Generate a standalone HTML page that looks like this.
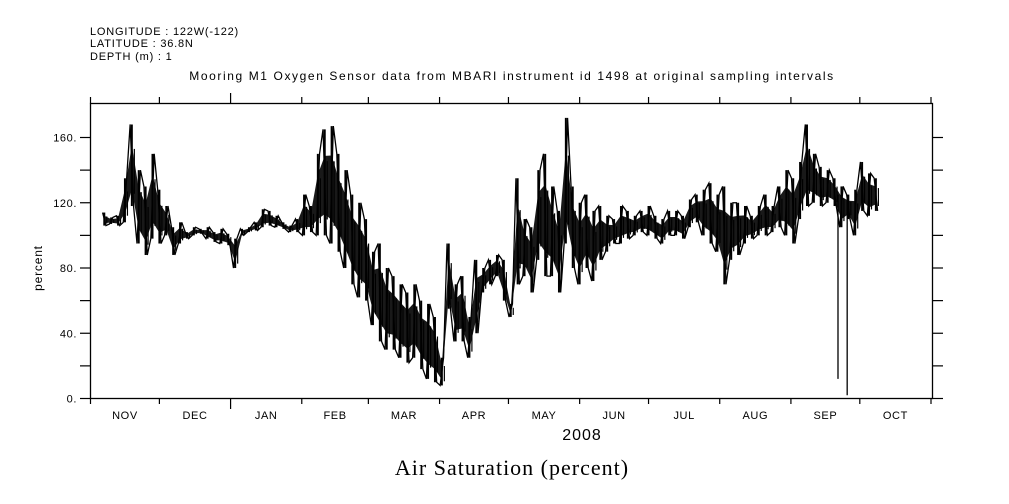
<!DOCTYPE html>
<html><head><meta charset="utf-8"><style>
body{margin:0;background:#fff;}
svg{display:block;font-family:"Liberation Sans",sans-serif;}
</style></head><body>
<svg id="chart" width="1009" height="504" viewBox="0 0 1009 504">
<g font-size="11" fill="#000" letter-spacing="0.8">
<text x="90" y="35">LONGITUDE : 122W(-122)</text>
<text x="90" y="47">LATITUDE : 36.8N</text>
<text x="90" y="60">DEPTH (m) : 1</text>
</g>
<text x="512" y="80" font-size="12" letter-spacing="1.6" text-anchor="middle">Mooring M1 Oxygen Sensor data from MBARI instrument id 1498 at original sampling intervals</text>
<rect x="90.5" y="103.5" width="842" height="295" fill="none" stroke="#000" stroke-width="1.3"/>
<g id="axes"></g>
<g id="series"></g>
<text transform="translate(42,268) rotate(-90)" font-size="12" letter-spacing="0.8" text-anchor="middle">percent</text>
<text x="582" y="440" font-size="16" letter-spacing="1" text-anchor="middle">2008</text>
<text x="512" y="475" font-size="22" letter-spacing="1" text-anchor="middle" font-family="'Liberation Serif',serif">Air Saturation (percent)</text>
</svg>
<script>
const monthLabels=["NOV","DEC","JAN","FEB","MAR","APR","MAY","JUN","JUL","AUG","SEP","OCT"];
const monthStartDays=[0,30,61,92,121,152,182,213,243,274,305,335,366];
const yTicks=[0,20,40,60,80,100,120,140,160];
const yTickLabels=["0.","","40.","","80.","","120.","","160."];
const startDay=6, stepDays=3;
const lowValues=[106,107,106,108,118,95,88,98,95,100,88,95,98,100,101,98,96,95,94,80,100,102,103,105,106,105,104,102,102,100,102,100,100,95,90,80,70,62,60,45,35,30,30,25,22,25,18,12,10,8,55,35,35,25,40,65,70,75,60,50,70,75,65,85,75,75,65,95,80,70,80,72,85,90,95,95,98,100,102,100,98,95,100,100,98,105,108,100,95,90,70,85,88,95,98,100,100,102,105,100,95,110,118,120,118,120,118,105,110,100,115,112,115];
const highValues=[114,111,112,135,168,140,130,150,128,118,105,108,102,105,104,105,102,104,101,98,104,105,108,116,115,112,108,106,110,125,118,150,165,167,150,140,125,120,110,90,95,80,75,70,65,70,60,58,50,25,95,70,75,50,85,80,85,88,85,58,135,110,105,140,150,130,115,172,130,120,125,115,118,112,110,118,115,112,115,118,112,110,115,115,112,122,125,128,132,125,130,120,120,118,112,118,125,118,130,140,135,145,168,150,142,140,135,130,125,128,145,138,135];
const spikeDays=[325.5,329.5];
const spikeValues=[12,2];
const X0=90.5,X1=931,Y0=398.5,YTOP=137.5;
const xs=d=>X0+(X1-X0)*d/366;
const ys=v=>Y0-(Y0-YTOP)*v/160;
const NS="http://www.w3.org/2000/svg";
function mk(tag,attrs,parent){const e=document.createElementNS(NS,tag);for(const k in attrs)e.setAttribute(k,attrs[k]);parent.appendChild(e);return e;}
const ax=document.getElementById('axes');
yTicks.forEach((t,i)=>{
 const y=ys(t);
 const l=mk('line',{x1:80,x2:90.5,y1:y,y2:y,stroke:'#000','stroke-width':1.2},ax);
 
 
 const r=mk('line',{x1:932.5,x2:943,y1:y,y2:y,stroke:'#000','stroke-width':1.2},ax);
 
 
 if(yTickLabels[i]){const tx=mk('text',{x:77,y:y+4,'font-size':11,'letter-spacing':0.6,'text-anchor':'end'},ax);tx.textContent=yTickLabels[i];
 
 }
});
monthStartDays.forEach((d,i)=>{
 const x=xs(d);const big=(i===2);
 const b=mk('line',{x1:x,x2:x,y1:398.5,y2:big?409:404,stroke:'#000','stroke-width':1.2},ax);
 
 
 const t=mk('line',{x1:x,x2:x,y1:103.5,y2:big?93:97,stroke:'#000','stroke-width':1.2},ax);
 
 
 if(i<monthLabels.length){const tx=mk('text',{x:(xs(d)+xs(monthStartDays[i+1]))/2,y:419,'font-size':11,'letter-spacing':0.6,'text-anchor':'middle'},ax);tx.textContent=monthLabels[i];
 
 }
});
const sg=document.getElementById('series');
const pts=[];
const bandTop=[],bandBot=[];
lowValues.forEach((lo,i)=>{
 const d=startDay+i*stepDays;const x=xs(d);const hi=highValues[i];
 bandTop.push([x,ys(lo+(hi-lo)*0.75)]);bandBot.push([x,ys(lo+(hi-lo)*0.2)]);
 if(i%2===0){pts.push([x-1.7,ys(hi)],[x+1.7,ys(lo)]);}else{pts.push([x-1.7,ys(lo)],[x+1.7,ys(hi)]);}
 const v=mk('line',{x1:x,x2:x,y1:ys(lo),y2:ys(hi),stroke:'#000','stroke-width':2},sg);
 
 
 const m=mk('line',{x1:x+2.5,x2:x+2.5,y1:ys(lo+(hi-lo)*0.15),y2:ys(hi-(hi-lo)*0.3),stroke:'#000','stroke-width':1.2},sg);
 
 
});
const band=mk('polygon',{points:bandTop.concat(bandBot.slice().reverse()).map(p=>p.join(',')).join(' '),fill:'#000','fill-opacity':0.9,stroke:'none'},sg);


const pl=mk('polyline',{points:pts.map(p=>p.join(',')).join(' '),fill:'none',stroke:'#000','stroke-width':1.3},sg);


spikeDays.forEach((d,i)=>{
 const s=mk('line',{x1:xs(d),x2:xs(d),y1:ys(125),y2:ys(spikeValues[i]),stroke:'#000','stroke-width':1.3},sg);
 
 
});
</script>
</body></html>
